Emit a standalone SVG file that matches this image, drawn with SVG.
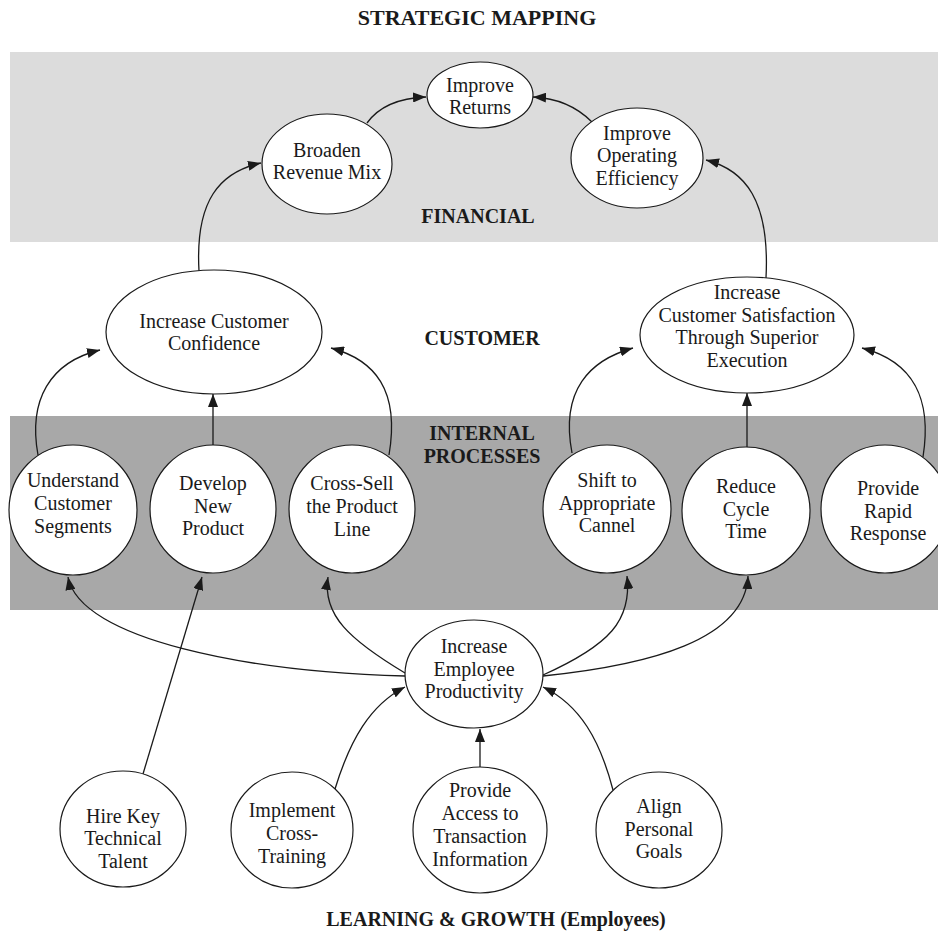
<svg xmlns="http://www.w3.org/2000/svg" width="938" height="935" viewBox="0 0 938 935">
<defs>
<style>
.n{fill:#fff;stroke:#1a1a1a;stroke-width:1.2}
.t{font-family:"Liberation Serif","Times New Roman",serif;font-size:20px;fill:#1a1a1a;text-anchor:middle}
.h{font-family:"Liberation Serif","Times New Roman",serif;font-size:20px;font-weight:bold;fill:#1a1a1a;text-anchor:middle}
.c{fill:none;stroke:#1a1a1a;stroke-width:1.3}
</style>
<marker id="ar" markerUnits="userSpaceOnUse" markerWidth="14" markerHeight="10" refX="13" refY="5" orient="auto">
<path d="M0,0 L13,5 L0,10 z" fill="#1a1a1a"/>
</marker>
</defs>
<rect width="938" height="935" fill="#fff"/>
<g id="bands">
<rect x="10" y="52" width="928" height="190" fill="#dcdcdc"/>
<rect x="10" y="416" width="928" height="194" fill="#a8a8a8"/>
</g>
<g id="labels">
<text class="h" x="477" y="25" style="font-size:22px">STRATEGIC MAPPING</text>
<text class="h" x="478" y="223">FINANCIAL</text>
<text class="h" x="482" y="345">CUSTOMER</text>
<text class="h" x="482" y="440">INTERNAL</text>
<text class="h" x="482" y="463">PROCESSES</text>
<text class="h" x="496" y="926">LEARNING &amp; GROWTH (Employees)</text>
</g>
<g id="connectors">
<path class="c" marker-end="url(#ar)" d="M367 123 C380 105 400 98 426 97"/>
<path class="c" marker-end="url(#ar)" d="M592 122 C575 105 555 98 533 97"/>
<path class="c" marker-end="url(#ar)" d="M199 271 C195 200 220 172 261 163"/>
<path class="c" marker-end="url(#ar)" d="M766 278 C770 200 745 170 706 160"/>
<path class="c" marker-end="url(#ar)" d="M38 455 C28 400 50 362 100 350"/>
<path class="c" marker-end="url(#ar)" d="M213 445 L213 394"/>
<path class="c" marker-end="url(#ar)" d="M389 455 C400 390 375 360 331 348"/>
<path class="c" marker-end="url(#ar)" d="M572 453 C560 390 590 360 633 348"/>
<path class="c" marker-end="url(#ar)" d="M747 447 L747 393"/>
<path class="c" marker-end="url(#ar)" d="M923 457 C932 400 915 362 862 348"/>
<path class="c" marker-end="url(#ar)" d="M405 676 C250 672 80 640 68 577"/>
<path class="c" marker-end="url(#ar)" d="M143 774 L202 577"/>
<path class="c" marker-end="url(#ar)" d="M405 673 C350 640 322 615 328 577"/>
<path class="c" marker-end="url(#ar)" d="M543 675 C610 645 632 620 627 576"/>
<path class="c" marker-end="url(#ar)" d="M543 676 C650 665 745 640 748 576"/>
<path class="c" marker-end="url(#ar)" d="M335 789 C350 740 370 705 405 687"/>
<path class="c" marker-end="url(#ar)" d="M480 767 L480 729"/>
<path class="c" marker-end="url(#ar)" d="M613 790 C600 740 580 705 543 687"/>
</g>
<g id="improve-returns">
<ellipse class="n" cx="480" cy="95" rx="53" ry="33"/>
<text class="t" x="480" y="92">Improve</text>
<text class="t" x="480" y="114">Returns</text>
</g>
<g id="broaden-revenue-mix">
<ellipse class="n" cx="327" cy="164" rx="65" ry="50"/>
<text class="t" x="327" y="157">Broaden</text>
<text class="t" x="327" y="179">Revenue Mix</text>
</g>
<g id="improve-operating-efficiency">
<ellipse class="n" cx="637" cy="158" rx="66" ry="50"/>
<text class="t" x="637" y="140">Improve</text>
<text class="t" x="637" y="162">Operating</text>
<text class="t" x="637" y="185">Efficiency</text>
</g>
<g id="increase-customer-confidence">
<ellipse class="n" cx="214" cy="332" rx="108" ry="62"/>
<text class="t" x="214" y="328">Increase Customer</text>
<text class="t" x="214" y="350">Confidence</text>
</g>
<g id="increase-customer-satisfaction">
<ellipse class="n" cx="747" cy="335" rx="107" ry="58"/>
<text class="t" x="747" y="299">Increase</text>
<text class="t" x="747" y="322">Customer Satisfaction</text>
<text class="t" x="747" y="344">Through Superior</text>
<text class="t" x="747" y="367">Execution</text>
</g>
<g id="understand-customer-segments">
<ellipse class="n" cx="73" cy="510" rx="64" ry="65"/>
<text class="t" x="73" y="487">Understand</text>
<text class="t" x="73" y="510">Customer</text>
<text class="t" x="73" y="533">Segments</text>
</g>
<g id="develop-new-product">
<ellipse class="n" cx="213" cy="509" rx="63" ry="64"/>
<text class="t" x="213" y="490">Develop</text>
<text class="t" x="213" y="513">New</text>
<text class="t" x="213" y="535">Product</text>
</g>
<g id="cross-sell">
<ellipse class="n" cx="352" cy="509" rx="63" ry="64"/>
<text class="t" x="352" y="490">Cross-Sell</text>
<text class="t" x="352" y="513">the Product</text>
<text class="t" x="352" y="536">Line</text>
</g>
<g id="shift-to-appropriate-cannel">
<ellipse class="n" cx="607" cy="509" rx="64" ry="64"/>
<text class="t" x="607" y="487">Shift to</text>
<text class="t" x="607" y="510">Appropriate</text>
<text class="t" x="607" y="532">Cannel</text>
</g>
<g id="reduce-cycle-time">
<ellipse class="n" cx="746" cy="511" rx="64" ry="64"/>
<text class="t" x="746" y="493">Reduce</text>
<text class="t" x="746" y="516">Cycle</text>
<text class="t" x="746" y="538">Time</text>
</g>
<g id="provide-rapid-response">
<ellipse class="n" cx="885" cy="509" rx="64" ry="64"/>
<text class="t" x="888" y="495">Provide</text>
<text class="t" x="888" y="518">Rapid</text>
<text class="t" x="888" y="540">Response</text>
</g>
<g id="increase-employee-productivity">
<ellipse class="n" cx="474" cy="674" rx="69" ry="54"/>
<text class="t" x="474" y="653">Increase</text>
<text class="t" x="474" y="676">Employee</text>
<text class="t" x="474" y="698">Productivity</text>
</g>
<g id="hire-key-technical-talent">
<ellipse class="n" cx="123" cy="829" rx="63" ry="58"/>
<text class="t" x="123" y="823">Hire Key</text>
<text class="t" x="123" y="845">Technical</text>
<text class="t" x="123" y="868">Talent</text>
</g>
<g id="implement-cross-training">
<ellipse class="n" cx="292" cy="830" rx="61" ry="58"/>
<text class="t" x="292" y="817">Implement</text>
<text class="t" x="292" y="840">Cross-</text>
<text class="t" x="292" y="863">Training</text>
</g>
<g id="provide-access">
<ellipse class="n" cx="480" cy="830" rx="67" ry="63"/>
<text class="t" x="480" y="797">Provide</text>
<text class="t" x="480" y="820">Access to</text>
<text class="t" x="480" y="843">Transaction</text>
<text class="t" x="480" y="866">Information</text>
</g>
<g id="align-personal-goals">
<ellipse class="n" cx="659" cy="830" rx="63" ry="58"/>
<text class="t" x="659" y="813">Align</text>
<text class="t" x="659" y="836">Personal</text>
<text class="t" x="659" y="858">Goals</text>
</g>
</svg>
